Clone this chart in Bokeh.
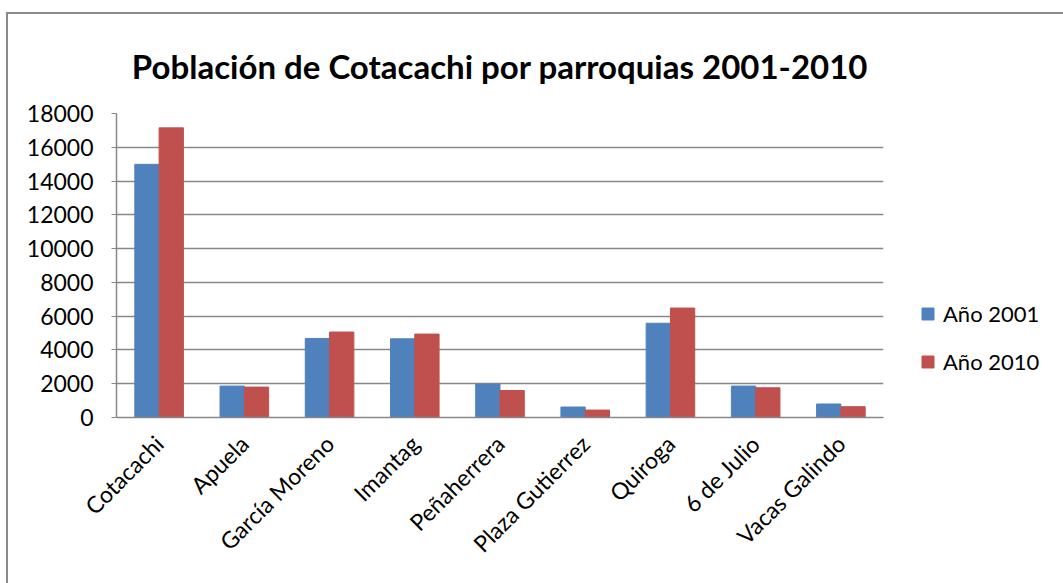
import math
from bokeh.plotting import figure
from bokeh.models import ColumnDataSource, FactorRange, Legend, LegendItem, FixedTicker, NumeralTickFormatter
from bokeh.transform import dodge
from bokeh.embed import file_html
from bokeh.resources import INLINE

parroquias = ["Cotacachi", "Apuela", "García Moreno", "Imantag", "Peñaherrera",
              "Plaza Gutierrez", "Quiroga", "6 de Julio", "Vacas Galindo"]
anio_2001 = [14990, 1860, 4680, 4660, 1980, 620, 5580, 1860, 800]
anio_2010 = [17150, 1800, 5060, 4940, 1600, 440, 6480, 1760, 640]
series_names = ["Año 2001", "Año 2010"]
y_ticks = [0, 2000, 4000, 6000, 8000, 10000, 12000, 14000, 16000, 18000]

FONT = "Lato"
GRID = "#888888"

src = ColumnDataSource(dict(cat=parroquias, a2001=anio_2001, a2010=anio_2010))

# the page origin is shifted by 8px left / 14px top via the outer border styles
p = figure(x_range=FactorRange(*parroquias, range_padding=0), y_range=(0, 18000),
           frame_width=767, frame_height=304,
           min_border_left=108, min_border_top=99, min_border_right=180, min_border_bottom=166,
           output_backend="svg", toolbar_location=None,
           title="Población de Cotacachi por parroquias 2001-2010")
p.styles = {"border-left": "2px solid #8a8a8a", "border-top": "2px solid #8a8a8a",
            "margin-left": "6px", "margin-top": "12px"}

p.title.text_font = FONT
p.title.text_font_size = "33px"
p.title.text_font_style = "bold"
p.title.text_color = "#000000"
p.title.align = "center"
p.title.vertical_align = "middle"
p.title.offset = 0
p.title.standoff = 53

r1 = p.vbar(x=dodge("cat", -0.1425, range=p.x_range), top="a2001", width=0.285, source=src,
            fill_color="#4F81BD", line_color="#4F81BD")
r2 = p.vbar(x=dodge("cat", 0.1425, range=p.x_range), top="a2010", width=0.285, source=src,
            fill_color="#C0504D", line_color="#C0504D")

p.outline_line_color = None
p.xgrid.grid_line_color = None
p.ygrid.grid_line_color = GRID
p.ygrid.grid_line_width = 1.5
p.yaxis.ticker = FixedTicker(ticks=y_ticks)
p.yaxis.formatter = NumeralTickFormatter(format="0")
for ax in (p.xaxis[0], p.yaxis[0]):
    ax.axis_line_color = GRID
    ax.axis_line_width = 1.5
    ax.major_label_text_font = FONT
    ax.major_label_text_font_size = "23px"
    ax.major_label_text_color = "#000000"
    ax.minor_tick_line_color = None
p.yaxis.major_tick_line_color = GRID
p.yaxis.major_tick_out = 5
p.yaxis.major_tick_in = 0
p.yaxis.major_label_standoff = 18
p.xaxis.major_tick_line_color = None
p.xaxis.major_label_orientation = math.pi / 4
p.xaxis.major_label_standoff = 16

legend = Legend(items=[LegendItem(label=series_names[0], renderers=[r1]),
                       LegendItem(label=series_names[1], renderers=[r2])],
                location=(37, 42))
legend.border_line_color = None
legend.background_fill_alpha = 0
legend.padding = 0
legend.margin = 0
legend.glyph_width = 15
legend.glyph_height = 15
legend.label_height = 15
legend.spacing = 21
legend.label_standoff = 8
legend.label_text_font = FONT
legend.label_text_font_size = "22px"
legend.label_text_color = "#000000"
p.add_layout(legend, "right")

open("out.html", "w").write(file_html(p, INLINE))
